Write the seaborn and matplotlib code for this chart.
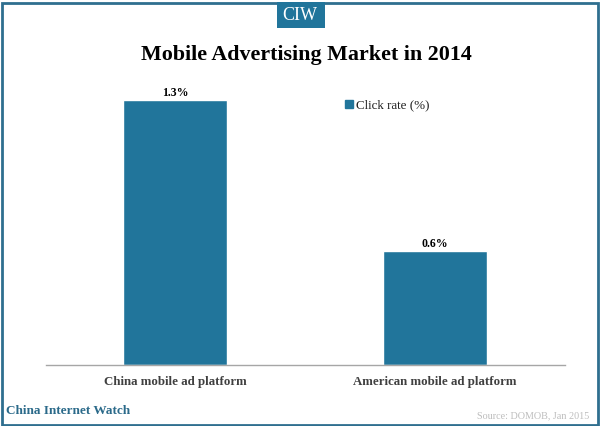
import matplotlib
matplotlib.use("Agg")
import matplotlib.pyplot as plt
from matplotlib.patches import Rectangle
from matplotlib.lines import Line2D
import pandas as pd
import seaborn as sns

categories = ["China mobile ad platform", "American mobile ad platform"]
click_rate = [1.3, 0.56]
value_labels = ["1.3%", "0.6%"]
series_name = "Click rate (%)"
title = "Mobile Advertising Market in 2014"

BLUE = "#21759b"
W, H = 600, 426
sns.set_theme(style="white")
plt.rcParams["font.family"] = ["Liberation Serif", "DejaVu Serif"]

fig = plt.figure(figsize=(W / 100, H / 100), dpi=100, facecolor="white")
ax = fig.add_axes([46 / W, 1 - 365 / H, 519 / W, 285 / H])
ax.patch.set_alpha(0)

df = pd.DataFrame({"platform": categories, "rate": click_rate})
sns.barplot(data=df, x="platform", y="rate", color=BLUE, saturation=1, width=0.402, ax=ax)
ax.set_ylim(0, 1.4)
ax.set_xlim(-0.498, 1.502)
ax.set_xlabel("")
ax.set_ylabel("")
ax.set_yticks([])
ax.tick_params(axis="x", length=0, pad=8)
for lab in ax.get_xticklabels():
    lab.set_fontsize(9.3)
    lab.set_fontweight("bold")
    lab.set_color("#404040")
for s in ["top", "left", "right"]:
    ax.spines[s].set_visible(False)
ax.spines["bottom"].set_color("#a6a6a6")
ax.spines["bottom"].set_linewidth(1)

for container in ax.containers:
    ax.bar_label(container, labels=value_labels, padding=1, fontsize=8.5,
                 fontweight="bold", color="black")

handle = Line2D([], [], marker="s", linestyle="none", color=BLUE, markersize=6)
ax.legend([handle], [series_name], loc="upper left", bbox_to_anchor=(290 / 519, 0.955),
          frameon=False, fontsize=9.4, handlelength=1.0, handletextpad=0.05, borderpad=0,
          labelcolor="#202020")

# frame
fig.add_artist(Rectangle((1.5 / W, 1.5 / H), (W - 4) / W, (H - 4) / H, transform=fig.transFigure,
                         fill=False, edgecolor="#2f6f8f", linewidth=2))
# CIW badge
fig.add_artist(Rectangle((277 / W, 1 - 28 / H), 48 / W, 26 / H, transform=fig.transFigure,
                         facecolor=BLUE, edgecolor="none"))
fig.text(300 / W, 1 - 15 / H, "CIW", color="white", fontsize=13, ha="center", va="center")
fig.text(306 / W, 1 - 55 / H, title, color="black", fontsize=15.8, fontweight="bold",
         ha="center", va="center")
fig.text(6 / W, 1 - 411 / H, "China Internet Watch", color="#2b6a8a", fontsize=9.5,
         fontweight="bold", ha="left", va="center")
fig.text(589 / W, 1 - 415.5 / H, "Source: DOMOB, Jan 2015", color="#bdbdbd", fontsize=7.3,
         ha="right", va="center")

fig.savefig("out.png", dpi=100)
